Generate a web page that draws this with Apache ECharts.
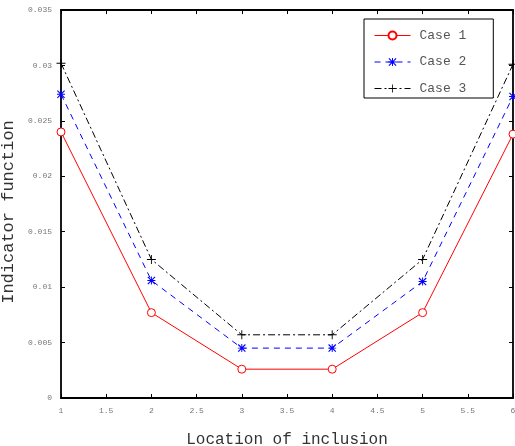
<!DOCTYPE html>
<html>
<head>
<meta charset="utf-8">
<script src="https://cdn.jsdelivr.net/npm/echarts@6/dist/echarts.min.js"></script>
<style>
  html, body { margin: 0; padding: 0; background: #fff; }
  #main { width: 515px; height: 446px; }
</style>
</head>
<body>
<div id="main"></div>
<script>
// 横坐标位置 & 三组指标值
const locations = [1, 2, 3, 4, 5, 6]
const case1 = [0.0240, 0.0077, 0.0026, 0.0026, 0.0077, 0.0238]
const case2 = [0.0274, 0.0106, 0.0045, 0.0045, 0.0105, 0.0272]
const case3 = [0.0302, 0.0125, 0.0057, 0.0057, 0.0125, 0.0301]
const seriesNames = ['Case 1', 'Case 2', 'Case 3']

const mono = '"Liberation Mono", "DejaVu Sans Mono", monospace'
const plusPath = 'path://M4.5,0h1v4.5h4.5v1h-4.5v4.5h-1v-4.5h-4.5v-1h4.5z'
const starPath = 'path://M4.4,0h1.2v10h-1.2z M0,4.4h10v1.2h-10z M0,1 L1,0 L10,9 L9,10z M9,0 L10,1 L1,10 L0,9z'

const pairs = arr => locations.map((x, i) => [x, arr[i]])

const mChart = echarts.init(document.getElementById('main'))

const tickStyle = { show: true, inside: true, length: 4, lineStyle: { color: '#000', width: 1 } }
const lineAxis = { show: true, onZero: false, lineStyle: { color: '#000', width: 1.8 } }

const options = {
  animation: false,
  grid: { left: 61, right: 2, top: 10, bottom: 48, outerBoundsMode: 'none', containLabel: false },
  legend: {
    orient: 'vertical',
    left: 364,
    top: 19,
    padding: [10, 27, 3, 10],
    itemGap: 13.5,
    itemWidth: 36,
    itemHeight: 10,
    borderColor: '#000',
    borderWidth: 1,
    backgroundColor: '#fff',
    lineStyle: { width: 1, color: 'inherit', type: 'inherit' },
    textStyle: { fontFamily: mono, fontSize: 13, color: '#555', padding: [4, 0, 0, 4] },
    data: seriesNames
  },
  xAxis: [{
    type: 'value', min: 1, max: 6, interval: 0.5,
    name: 'Location of inclusion', nameLocation: 'middle', nameGap: 34,
    nameTextStyle: { fontFamily: mono, fontSize: 16, color: '#333' },
    axisLine: lineAxis, axisTick: tickStyle, splitLine: { show: false },
    axisLabel: { fontFamily: mono, fontSize: 8, color: '#777', margin: 9 }
  }, {
    type: 'value', min: 1, max: 6, interval: 0.5, position: 'top',
    axisLine: lineAxis, axisTick: tickStyle, splitLine: { show: false },
    axisLabel: { show: false }
  }],
  yAxis: [{
    type: 'value', min: 0, max: 0.035, interval: 0.005,
    name: 'Indicator function', nameLocation: 'middle', nameGap: 5,
    nameTextStyle: { fontFamily: mono, fontSize: 17, color: '#333', padding: [0, 16, 0, 0] },
    axisLine: lineAxis, axisTick: tickStyle, splitLine: { show: false },
    axisLabel: { fontFamily: mono, fontSize: 8, color: '#777', margin: 9 }
  }, {
    type: 'value', min: 0, max: 0.035, interval: 0.005, position: 'right',
    axisLine: lineAxis, axisTick: tickStyle, splitLine: { show: false },
    axisLabel: { show: false }
  }],
  series: [{
    name: 'Case 1', type: 'line', data: pairs(case1),
    symbol: 'circle', symbolSize: 8,
    lineStyle: { color: '#ff0000', width: 1 },
    itemStyle: { color: '#fff', borderColor: '#ff0000', borderWidth: 1 }
  }, {
    name: 'Case 2', type: 'line', data: pairs(case2),
    symbol: starPath, symbolSize: 8,
    lineStyle: { color: '#0000ff', width: 1, type: [6, 5] },
    itemStyle: { color: '#0000ff' }
  }, {
    name: 'Case 3', type: 'line', data: pairs(case3),
    symbol: plusPath, symbolSize: 9,
    lineStyle: { color: '#000', width: 1, type: [7, 3, 2, 3] },
    itemStyle: { color: '#000' }
  }]
}
mChart.setOption(options)
</script>
</body>
</html>
